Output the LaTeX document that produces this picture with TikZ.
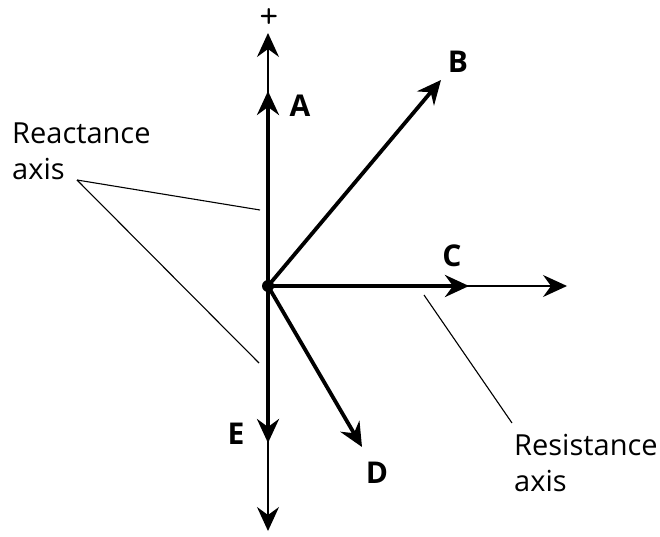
\documentclass[tikz,border=0pt]{standalone}
\usepackage{fontspec}
\setmainfont{Open Sans}
\usetikzlibrary{arrows.meta}
\begin{document}
\begin{tikzpicture}[x=1pt,y=-1pt,
  vec/.style={line width=3.8pt,-{Stealth[length=24pt,width=22pt,inset=8pt]}},
  axline/.style={line width=1.4pt,-{Stealth[length=24pt,width=22pt,inset=8pt]}},
  lead/.style={line width=1.1pt},
  lbl/.style={font=\fontsize{30}{30}\selectfont\bfseries,inner sep=0pt},
  txt/.style={font=\fontsize{29}{36}\selectfont,align=left,inner sep=0pt,anchor=north west}]
\useasboundingbox (0,0) rectangle (660,537);
\coordinate (o) at (268,286);
% axes
\coordinate (top) at (268,33);
\coordinate (bot) at (268,531);
\coordinate (right) at (567,286);
\draw[axline] (o)--(top);
\draw[axline] (o)--(bot);
\draw[axline] (o)--(right);
\node[font=\fontsize{36}{36}\selectfont\ttfamily,inner sep=0pt] (plus) at (269,18) {+};
% vectors
\coordinate (a) at (268,91);
\coordinate (b) at (441,80);
\coordinate (c) at (469,286);
\coordinate (d) at (362,447);
\coordinate (e) at (268,443);
\draw[vec] (o)--(a);
\draw[vec] (o)--(b);
\draw[vec] (o)--(c);
\draw[vec] (o)--(d);
\draw[vec] (o)--(e);
\fill (o) circle (6pt);
\node[lbl] (la) at (300,106) {A};
\node[lbl] (lb) at (458,62) {B};
\node[lbl] (lc) at (452,256) {C};
\node[lbl] (ld) at (377,473) {D};
\node[lbl] (le) at (236,434) {E};
% leaders
\node[txt] (react) at (12,123) {Reactance\\axis};
\node[txt] (resist) at (514,434) {Resistance\\axis};
\coordinate (rx) at (77,180);
\coordinate (rx1) at (260,210);
\coordinate (rx2) at (259,363);
\coordinate (rs) at (512,423);
\coordinate (rs1) at (424,295);
\draw[lead] (rx)--(rx1);
\draw[lead] (rx)--(rx2);
\draw[lead] (rs)--(rs1);
\end{tikzpicture}
\end{document}
